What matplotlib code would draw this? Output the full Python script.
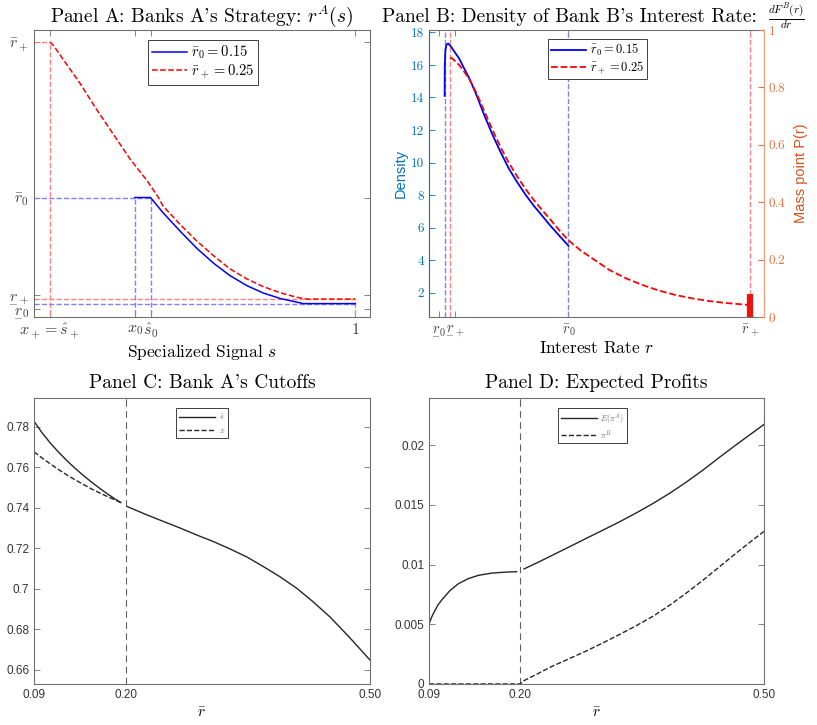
import matplotlib.pyplot as plt
import matplotlib.ticker as mticker
from matplotlib.mathtext import MathTextParser
import numpy as np

plt.rcParams['mathtext.fontset'] = 'cm'
plt.rcParams['axes.unicode_minus'] = False
plt.rcParams['axes.formatter.use_mathtext'] = True


def safe_tex(s, fallback):
    try:
        MathTextParser('path').parse(s)
        return s
    except ValueError:
        return fallback


# ---- Panel A: Bank A's strategy r^A(s)
r_bar0, r_bar_plus = 0.15, 0.25
r_low0, r_low_plus = 0.0818, 0.0847
x_plus, x0, s_hat0 = 0.730, 0.805, 0.819
s_red = [0.730, 0.733, 0.742, 0.757, 0.771, 0.786, 0.801, 0.816, 0.826, 0.830, 0.845,
         0.860, 0.875, 0.889, 0.904, 0.919, 0.934, 0.948, 0.957, 1.000]
r_red = [0.2500, 0.2480, 0.2386, 0.2231, 0.2070, 0.1908, 0.1747, 0.1608, 0.1500, 0.1446, 0.1328,
         0.1220, 0.1124, 0.1042, 0.0977, 0.0926, 0.0887, 0.0859, 0.0847, 0.0847]
s_blue = [0.805, 0.819, 0.830, 0.845, 0.860, 0.875, 0.889, 0.904, 0.919, 0.934, 0.948, 0.954, 1.000]
r_blue = [0.1500, 0.1500, 0.1403, 0.1285, 0.1173, 0.1076, 0.0999, 0.0934, 0.0885, 0.0850,
          0.0828, 0.0818, 0.0818]
a_ytick_pos = [0.0786, 0.0876, r_bar0, r_bar_plus]
under_lab = [safe_tex(r'$\underset{-}{r}_0$', r'$r_0$'),
             safe_tex(r'$\underset{-}{r}_+$', r'$r_+$')]
a_ytick_lab = under_lab + [r'$\bar{r}_0$', r'$\bar{r}_+$']
a_xtick_lab = [r'$x_+ = \hat{s}_+$', r'$x_0$', r'$\hat{s}_0$', r'$1$']

# ---- Panel B: density of bank B's rate
r_dens_blue = [0.0818, 0.0819, 0.0822, 0.0828, 0.0837, 0.0852, 0.0870, 0.0898, 0.0925, 0.0953,
               0.0990, 0.1035, 0.1082, 0.1128, 0.1173, 0.1220, 0.1265, 0.1310, 0.1357, 0.1400,
               0.1448, 0.1500]
dens_blue = [14.1, 16.0, 16.9, 17.25, 17.32, 17.15, 16.85, 16.4, 15.8, 15.2,
             14.25, 12.95, 11.7, 10.6, 9.6, 8.75, 8.0, 7.33, 6.7, 6.12,
             5.52, 4.88]
r_dens_red = [0.0848, 0.0860, 0.0880, 0.0898, 0.0925, 0.0953, 0.0990, 0.1035, 0.1082, 0.1128,
              0.1173, 0.1220, 0.1265, 0.1310, 0.1357, 0.1400, 0.1448, 0.1500, 0.1566, 0.1632,
              0.1724, 0.1816, 0.1907, 0.1999, 0.2091, 0.2183, 0.2275, 0.2366, 0.2440, 0.2500]
dens_red = [16.45, 16.4, 16.2, 16.0, 15.6, 15.15, 14.35, 13.2, 12.0, 10.9,
            9.95, 9.1, 8.35, 7.68, 7.05, 6.5, 5.85, 5.22, 4.6, 4.1,
            3.4, 2.88, 2.47, 2.12, 1.85, 1.64, 1.48, 1.36, 1.29, 1.23]
mass_point = 0.08
b_xtick_pos = [0.0787, 0.0876, r_bar0, r_bar_plus]

# ---- Panel C / D: comparative statics in r-bar
r_cut = 0.2018
rc_left = [0.090, 0.100, 0.110, 0.120, 0.130, 0.140, 0.150, 0.160, 0.170, 0.180, 0.190, 0.196]
s_hat_left = [0.7828, 0.7770, 0.7720, 0.7675, 0.7634, 0.7596, 0.7561, 0.7528, 0.7497, 0.7468,
              0.7441, 0.7426]
x_left = [0.7677, 0.7646, 0.7617, 0.7589, 0.7563, 0.7539, 0.7516, 0.7494, 0.7474, 0.7455,
          0.7437, 0.7426]
rc_right = [0.2035, 0.2250, 0.2478, 0.2685, 0.2885, 0.3092, 0.3292, 0.3500, 0.3698, 0.3900,
            0.4105, 0.4300, 0.4512, 0.4750, 0.5000]
s_hat_right = [0.7407, 0.7370, 0.7333, 0.7300, 0.7266, 0.7233, 0.7197, 0.7157, 0.7110, 0.7060,
               0.7003, 0.6938, 0.6861, 0.6760, 0.6648]

rd_left = [0.0900, 0.0915, 0.0933, 0.0973, 0.1010, 0.1055, 0.1157, 0.1259, 0.1381, 0.1503,
           0.1666, 0.1829, 0.1972]
profit_a_left = [0.00497, 0.00530, 0.00561, 0.00617, 0.00662, 0.00703, 0.00783, 0.00840,
                 0.00883, 0.00910, 0.00929, 0.00937, 0.00941]
rd_right = [0.2063, 0.2242, 0.2422, 0.2626, 0.2830, 0.3034, 0.3238, 0.3441, 0.3645, 0.3850,
            0.4054, 0.4258, 0.4462, 0.4666, 0.4850, 0.5000]
profit_a_right = [0.00964, 0.01022, 0.01083, 0.01152, 0.01222, 0.01291, 0.01361, 0.01435,
                  0.01514, 0.01600, 0.01694, 0.01795, 0.01903, 0.02008, 0.02100, 0.02175]
rb_line = [0.0900, 0.2018, 0.2063, 0.2242, 0.2422, 0.2626, 0.2830, 0.3034, 0.3238, 0.3441,
           0.3645, 0.3850, 0.4054, 0.4258, 0.4462, 0.4666, 0.4850, 0.5000]
profit_b = [0.0, 0.0, 0.00028, 0.00090, 0.00153, 0.00215, 0.00278, 0.00346, 0.00417, 0.00490,
            0.00569, 0.00662, 0.00764, 0.00872, 0.00986, 0.01100, 0.01200, 0.01278]

BLUE, RED = '#0000ff', '#ff0000'
LBLUE, LRED = '#8080ff', '#ff8080'
AX_BLUE, AX_ORANGE = '#0072BD', '#D95319'
DARK = '#262626'
SERIF = 'cmr10'
SANS = 'Liberation Sans'


def box_style(ax):
    for sp in ax.spines.values():
        sp.set_color('#707070')
        sp.set_linewidth(0.8)
    ax.tick_params(direction='in', length=4, width=0.6, color='#707070',
                   top=True, right=True)


def legend_box(ax, handles, anchor, **kw):
    leg = ax.legend(handles=handles, loc='upper left', bbox_to_anchor=anchor,
                    borderaxespad=0, fancybox=False, edgecolor='#404040',
                    framealpha=1, **kw)
    leg.get_frame().set_linewidth(0.7)
    return leg


fig = plt.figure(figsize=(8.17, 7.25), dpi=100)
axA = fig.add_axes([0.0416, 0.5628, 0.4113, 0.3958])
axB = fig.add_axes([0.5251, 0.5628, 0.4100, 0.3958])
axC = fig.add_axes([0.0416, 0.0566, 0.4113, 0.3945])
axD = fig.add_axes([0.5251, 0.0566, 0.4100, 0.3945])

# ---------- Panel A
ax = axA
box_style(ax)
ax.plot([0.716, x_plus], [r_bar_plus, r_bar_plus], '--', color=LRED, lw=1)
ax.plot([x_plus, x_plus], [0.07, r_bar_plus], '--', color=LRED, lw=1)
ax.plot([0.716, 1.0], [r_low_plus, r_low_plus], '--', color=LRED, lw=1)
ax.plot([1.0, 1.0], [0.07, r_low_plus], '--', color=LRED, lw=1)
ax.plot([0.716, s_hat0], [r_bar0, r_bar0], '--', color=LBLUE, lw=1)
ax.plot([x0, x0], [0.07, r_bar0], '--', color=LBLUE, lw=1)
ax.plot([s_hat0, s_hat0], [0.07, r_bar0], '--', color=LBLUE, lw=1)
ax.plot([0.716, 1.0], [r_low0, r_low0], '--', color=LBLUE, lw=1)
lb, = ax.plot(s_blue, r_blue, '-', color=BLUE, lw=1.1, label=r'$\bar{r}_0 = 0.15$')
lr, = ax.plot(s_red, r_red, '--', color=RED, lw=1.1, label=r'$\bar{r}_+ = 0.25$')
ax.set_xlim(0.716, 1.013)
ax.set_ylim(0.0732, 0.2577)
ax.set_xticks([x_plus, x0, s_hat0, 1.0])
ax.set_xticklabels(a_xtick_lab, fontsize=11.5, color='#404040')
ax.set_yticks(a_ytick_pos)
ax.set_yticklabels(a_ytick_lab, fontsize=11.5, color='#404040')
ax.set_xlabel(r'Specialized Signal $s$', fontsize=12.5, family=SERIF, labelpad=1)
ax.set_title(r"Panel A: Banks A's Strategy: $r^A(s)$", fontsize=14, family=SERIF, y=1.0, pad=6)
legend_box(ax, [lb, lr], (0.339, 0.965), fontsize=10.5, handlelength=2.4,
           borderpad=0.25, labelspacing=0.1, handletextpad=0.3)

# ---------- Panel B
ax = axB
box_style(ax)
ax.tick_params(right=False)
for xv, c in [(r_low0, LBLUE), (r_bar0, LBLUE), (r_low_plus, LRED), (r_bar_plus, LRED)]:
    ax.axvline(xv, ls='--', color=c, lw=1)
lb2, = ax.plot(r_dens_blue, dens_blue, '-', color=BLUE, lw=1.3, label=r'$\bar{r}_0 = 0.15$')
lr2, = ax.plot(r_dens_red, dens_red, '--', color=RED, lw=1.3, label=r'$\bar{r}_+ = 0.25$')
ax.set_xlim(0.0732, 0.2577)
ax.set_ylim(0.5, 18.15)
ax.set_yticks(np.arange(2, 19, 2))
ax.set_yticklabels([str(v) for v in range(2, 19, 2)], family=SERIF, fontsize=9.5, color=AX_BLUE)
ax.tick_params(axis='y', colors=AX_BLUE)
ax.spines['left'].set_color(AX_BLUE)
ax.set_ylabel('Density', family=SANS, fontsize=10.5, color=AX_BLUE, labelpad=2)
ax.set_xticks(b_xtick_pos)
ax.set_xticklabels(a_ytick_lab, fontsize=10.5, color='#404040')
ax.set_xlabel(r'Interest Rate $r$', fontsize=12.5, family=SERIF, labelpad=1)
tB = ax.set_title("Panel B: Density of Bank B's Interest Rate:", fontsize=14, family=SERIF,
                  x=0.42, y=1.0, pad=6)
ax.annotate(r'$\frac{dF^B(r)}{dr}$', xy=(1, 0.5), xycoords=tB, xytext=(8, 0),
            textcoords='offset points', ha='left', va='center', fontsize=11.5)
legend_box(ax, [lb2, lr2], (0.355, 0.969), fontsize=9, handlelength=2.8,
           borderpad=0.25, labelspacing=0.1, handletextpad=0.3)

axB2 = axB.twinx()
axB2.plot([r_bar_plus, r_bar_plus], [0, mass_point], '-', color='#ee1111', lw=4.5,
          solid_capstyle='butt')
axB2.set_ylim(0, 1)
axB2.set_yticks([0, 0.2, 0.4, 0.6, 0.8, 1.0])
axB2.set_yticklabels(['0', '0.2', '0.4', '0.6', '0.8', '1'], family=SERIF, fontsize=9.5,
                     color='#e07040')
axB2.tick_params(axis='y', direction='in', length=4, colors='#e07040')
axB2.spines['right'].set_color('#f0a080')
for k in ['left', 'top', 'bottom']:
    axB2.spines[k].set_visible(False)
axB2.set_ylabel('Mass point P(r)', family=SANS, fontsize=10.5, color=AX_ORANGE, labelpad=6)

# ---------- Panel C
ax = axC
box_style(ax)
ax.axvline(r_cut, ls=(0, (6, 4)), color='#606060', lw=0.8)
lc1, = ax.plot(rc_left, s_hat_left, '-', color=DARK, lw=1.0, label=r'$\hat{s}$')
lc2, = ax.plot(rc_left, x_left, '--', color=DARK, lw=1.0, label=r'$x$')
ax.plot(rc_right, s_hat_right, '-', color=DARK, lw=1.0)
ax.set_xlim(0.09, 0.5)
ax.set_ylim(0.653, 0.7943)
ax.set_xticks([0.09, r_cut, 0.5])
ax.set_xticklabels([f'{v:.2f}' for v in [0.09, r_cut, 0.5]], family=SANS, fontsize=8.5,
                   color='#333333')
ax.set_yticks(np.arange(0.66, 0.781, 0.02))
ax.yaxis.set_major_formatter(mticker.FuncFormatter(lambda v, p: f'{v:g}'))
for t in ax.get_yticklabels():
    t.set_family(SANS)
    t.set_fontsize(8.5)
    t.set_color('#333333')
ax.set_xlabel(r'$\bar{r}$', fontsize=11, labelpad=3)
ax.set_title("Panel C: Bank A's Cutoffs", fontsize=14, family=SERIF, y=1.0, pad=7)
legend_box(ax, [lc1, lc2], (0.423, 0.965), fontsize=6, handlelength=4.3,
           borderpad=0.4, labelspacing=0.5, handletextpad=0.4, labelcolor='#707070')

# ---------- Panel D
ax = axD
box_style(ax)
ax.axvline(r_cut, ls=(0, (6, 4)), color='#606060', lw=0.8)
ld1, = ax.plot(rd_left, profit_a_left, '-', color=DARK, lw=1.0, label=r'$E(\pi^A)$')
ax.plot(rd_right, profit_a_right, '-', color=DARK, lw=1.0)
ld2, = ax.plot(rb_line, profit_b, '--', color=DARK, lw=1.0, label=r'$\pi^B$')
ax.set_xlim(0.09, 0.5)
ax.set_ylim(0, 0.02397)
ax.set_xticks([0.09, r_cut, 0.5])
ax.set_xticklabels([f'{v:.2f}' for v in [0.09, r_cut, 0.5]], family=SANS, fontsize=8.5,
                   color='#333333')
ax.set_yticks([0, 0.005, 0.01, 0.015, 0.02])
ax.yaxis.set_major_formatter(mticker.FuncFormatter(lambda v, p: f'{v:g}'))
for t in ax.get_yticklabels():
    t.set_family(SANS)
    t.set_fontsize(8.5)
    t.set_color('#333333')
ax.set_xlabel(r'$\bar{r}$', fontsize=11, labelpad=3)
ax.set_title('Panel D: Expected Profits', fontsize=14, family=SERIF, y=1.0, pad=7)
legend_box(ax, [ld1, ld2], (0.385, 0.965), fontsize=6, handlelength=4.3,
           borderpad=0.35, labelspacing=0.25, handletextpad=0.4, labelcolor='#707070')

fig.savefig('out.png', dpi=100)
